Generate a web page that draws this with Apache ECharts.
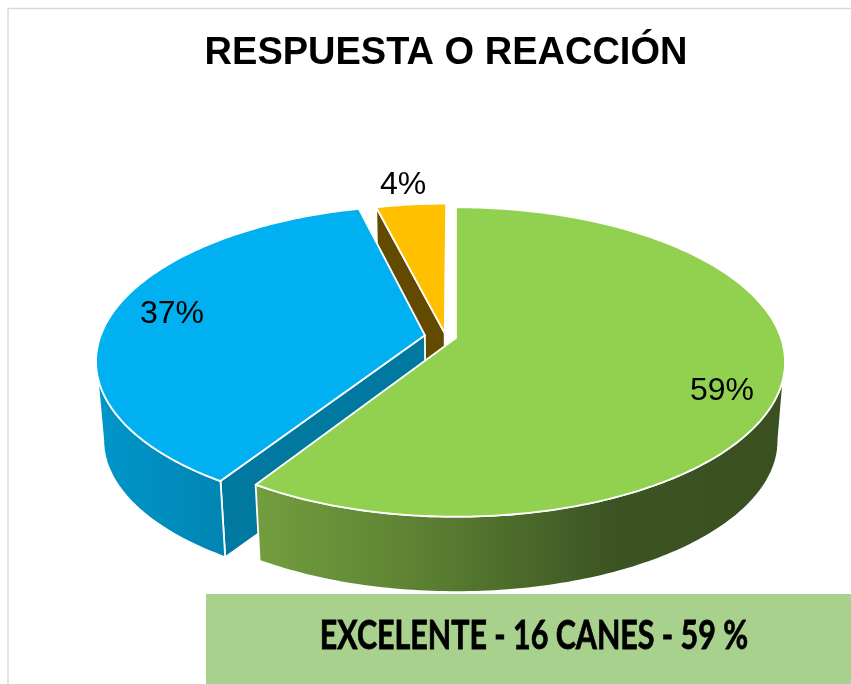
<!DOCTYPE html>
<html>
<head>
<meta charset="utf-8">
<style>html,body{margin:0;padding:0;background:#fff}#c{width:851px;height:684px}</style>
<script src="https://cdn.jsdelivr.net/npm/echarts@6/dist/echarts.min.js"></script>
</head>
<body>
<div id="c"></div>
<script>
const chartTitle = 'RESPUESTA O REACCIÓN';
const bannerText = 'EXCELENTE - 16 CANES - 59 %';
const categories = ['Excelente', 'Bueno', 'Regular'];
const sliceValues = [59, 37, 4];
const labelSuffix = '%';

// Styling per slice (not data)
const topColors = ['#92D050', '#00B0F0', '#FFC000'];
const wallStops = [
  [[0, '#739E3E'], [0.28, '#5F8434'], [0.5, '#4B6A2A'], [0.68, '#3C5323'], [1, '#3A5021']],
  [[0, '#0096CA'], [1, '#0085B2']],
  [[0, '#664E00'], [1, '#664E00']]
];
const faceColors = ['#587F30', '#00789F', '#624B00'];
const explodeUV = [[0, 0], [-0.096, -0.018], [-0.035, -0.032]];
const labelXY = [[722, 391], [172, 314], [403, 185]];
const paintOrder = [3, 2, 1];

// Perspective model of the tilted disc
const CX = 456, CY = 338, RX = 325, RY = 151, P = 0.155, DEPTH = 79, SHRINK = 0.98;
function project(u, v, low) {
  const s = 1 / (1 - P * v);
  let x = CX + RX * u * s, y = CY + RY * v * s;
  if (low) { x = CX + (x - CX) * SHRINK; y = CY + (y - CY) * SHRINK + DEPTH; }
  return [x, y];
}
const total = sliceValues.reduce((a, b) => a + b, 0);

function renderSlice(params, api) {
  const i = params.dataIndex;
  const value = api.value(0);
  const before = sliceValues.slice(0, i).reduce((a, b) => a + b, 0);
  const a0 = before / total * 2 * Math.PI;
  const a1 = (before + value) / total * 2 * Math.PI;
  const [du, dv] = explodeUV[i];
  const rim = (a, low) => project(du + Math.sin(a), dv - Math.cos(a), low);
  const steps = Math.max(12, Math.round((a1 - a0) * 60));
  const top = [], bot = [];
  for (let k = 0; k <= steps; k++) {
    const a = a0 + (a1 - a0) * k / steps;
    top.push(rim(a, false));
    bot.push(rim(a, true));
  }
  // Only the camera-facing stretch of the rim has a visible outer wall
  let first = -1, last = -1;
  for (let k = 0; k < steps; k++) {
    if (top[k + 1][0] < top[k][0]) { if (first < 0) first = k; last = k + 1; }
  }
  const apexTop = project(du, dv, false), apexBot = project(du, dv, true);
  const z = paintOrder[i] * 10;
  const edge = { stroke: '#fff', lineWidth: 1.8, lineJoin: 'round' };
  const poly = (points, fill, z2) => ({
    type: 'polygon', z2, shape: { points },
    style: Object.assign({ fill }, edge)
  });
  const grad = { type: 'linear', x: 0, y: 0, x2: 1, y2: 0, colorStops: wallStops[i].map(s => ({ offset: s[0], color: s[1] })) };
  const children = [];
  children.push(poly([apexTop, top[0], bot[0], apexBot], faceColors[i], z));
  if (first >= 0) {
    children.push(poly(top.slice(first, last + 1).concat(bot.slice(first, last + 1).reverse()), grad, z + 1));
  }
  children.push(poly([apexTop].concat(top), topColors[i], z + 2));
  children.push({
    type: 'text', z2: 100,
    style: {
      x: labelXY[i][0], y: labelXY[i][1], text: value + labelSuffix,
      fill: '#000', fontFamily: '"Liberation Sans", Arial, sans-serif', fontSize: 32,
      align: 'center', verticalAlign: 'middle'
    }
  });
  return { type: 'group', children };
}

const chart = echarts.init(document.getElementById('c'), null, { renderer: 'canvas' });
chart.setOption({
  animation: false,
  backgroundColor: '#fff',
  title: {
    text: chartTitle, left: 441, top: 30, textAlign: 'center',
    textStyle: { color: '#000', fontFamily: '"Liberation Sans", Arial, sans-serif', fontWeight: 'bold', fontSize: 38 }
  },
  series: [{
    type: 'custom', coordinateSystem: 'none', silent: true,
    data: sliceValues.map((v, i) => ({ name: categories[i], value: [v] })),
    renderItem: renderSlice
  }],
  graphic: [
    { type: 'line', silent: true, shape: { x1: 8, y1: 8.5, x2: 851, y2: 8.5 }, style: { stroke: '#D9D9D9', lineWidth: 1.5 } },
    { type: 'line', silent: true, shape: { x1: 8, y1: 8, x2: 8, y2: 684 }, style: { stroke: '#D9D9D9', lineWidth: 1.5 } },
    { type: 'rect', silent: true, shape: { x: 206, y: 594, width: 645, height: 90 }, style: { fill: '#A9D18E' } },
    {
      type: 'text', silent: true, x: 534, y: 636, scaleX: 0.76, scaleY: 1,
      style: {
        x: 0, y: 0, text: bannerText, fill: '#000',
        fontFamily: 'Lato, "Liberation Sans", sans-serif', fontWeight: 'bold', fontSize: 40,
        align: 'center', verticalAlign: 'middle', stroke: '#000', lineWidth: 0.8
      }
    }
  ]
});
</script>
</body>
</html>
